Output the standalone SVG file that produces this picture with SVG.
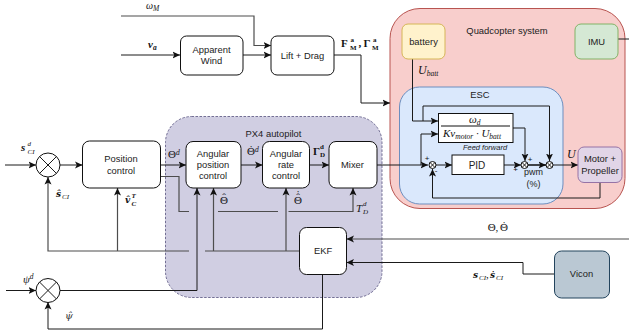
<svg xmlns="http://www.w3.org/2000/svg" width="629" height="336" viewBox="0 0 629 336">
<style>
.l{fill:none;stroke:#1a1a1a;stroke-width:1}
.g{fill:none;stroke:#4d4d4d;stroke-width:1.2}
.b{fill:#fff;stroke:#111;stroke-width:1}
.c{fill:#fff;stroke:#111;stroke-width:1}
text{font-family:"Liberation Sans",Arial,sans-serif;font-size:9.4px;fill:#222;text-anchor:middle}
.m{font-family:"Liberation Serif","DejaVu Serif",serif;font-style:italic;font-size:11px;fill:#111;text-anchor:start}
.n{font-family:"Liberation Serif","DejaVu Serif",serif;font-size:11px;fill:#111;text-anchor:middle}
.mb{font-family:"Liberation Serif","DejaVu Serif",serif;font-weight:bold;font-size:11px;fill:#111;text-anchor:start}
.h{font-family:"DejaVu Serif",serif;font-size:10px;fill:#333;text-anchor:start}
.hb{font-family:"DejaVu Serif",serif;font-size:9px;font-weight:bold;font-style:italic;fill:#111;text-anchor:start}
.u{font-family:"Liberation Serif",serif;font-style:italic;font-size:7px;fill:#111;text-anchor:start}
.ub{font-family:"Liberation Serif",serif;font-style:italic;font-weight:bold;font-size:7px;fill:#111;text-anchor:start}
.un{font-family:"Liberation Serif",serif;font-weight:bold;font-size:7px;fill:#111;text-anchor:start}
.s{font-size:7.5px}
.p{font-size:8px;fill:#111}
</style>
<defs>
<marker id="a" markerUnits="userSpaceOnUse" markerWidth="9" markerHeight="9" refX="7.5" refY="4" orient="auto"><path d="M0 0.5L7.5 4L0 7.5L1.8 4Z" fill="#111"/></marker>
</defs>
<g id="px4"><rect x="165.5" y="116.5" width="216.5" height="181" rx="26" fill="#d0cee2" stroke="#56517e" stroke-width="0.8" stroke-dasharray="2.5 1.5"/><text x="273.5" y="137">PX4 autopilot</text></g>
<g id="quadcopter"><rect x="390" y="8.5" width="235" height="200" rx="30" fill="#f8cecc" stroke="#b85450"/><text x="507" y="34">Quadcopter system</text></g>
<g id="esc"><rect x="399.5" y="87" width="163.5" height="117" rx="20" fill="#dae8fc" stroke="#6c8ebf"/><text x="480" y="98">ESC</text></g>
<g id="connectors">
<path class="g" d="M121 16H254V45.5H271" marker-end="url(#a)"/>
<path class="l" d="M121 55H180" marker-end="url(#a)"/>
<path class="l" d="M243 55H271" marker-end="url(#a)"/>
<path class="l" d="M334 55H361V103H390" marker-end="url(#a)"/>
<path class="l" d="M618 39H629"/>
<path class="l" d="M412.500 59V121H438" marker-end="url(#a)"/>
<path class="l" d="M423 121V106H549.500V161" marker-end="url(#a)"/>
<path class="l" d="M513 128H525V161" marker-end="url(#a)"/>
<path class="l" d="M421 165V134H438" marker-end="url(#a)"/>
<path class="l" d="M377 165H428" marker-end="url(#a)"/>
<path class="l" d="M436 165H452" marker-end="url(#a)"/>
<path class="l" d="M504 165H521" marker-end="url(#a)"/>
<path class="l" style="stroke-width:1.6" d="M528 165H546" marker-end="url(#a)"/>
<path class="l" d="M553 165H578" marker-end="url(#a)"/>
<path class="l" d="M600 183V198H432.500V169" marker-end="url(#a)"/>
<path class="l" d="M5 165H36" marker-end="url(#a)"/>
<path class="l" d="M60 165H82.500" marker-end="url(#a)"/>
<path class="l" d="M160.500 165H186" marker-end="url(#a)"/>
<path class="l" d="M241 165H262.500" marker-end="url(#a)"/>
<path class="l" d="M309.500 165H329" marker-end="url(#a)"/>
<path class="g" d="M160.500 176.500H179V211.500H189"/>
<path class="g" d="M218 211.500H278"/>
<path class="g" d="M288.500 211.500H353V188" marker-end="url(#a)"/>
<path class="g" d="M189 251H48V177" marker-end="url(#a)"/>
<path class="g" d="M117.500 251V188" marker-end="url(#a)"/>
<path class="g" d="M205 251H299.500"/>
<path class="g" d="M213.500 251V188" marker-end="url(#a)"/>
<path class="g" d="M286 251V188" marker-end="url(#a)"/>
<path class="l" d="M6 290.500H36" marker-end="url(#a)"/>
<path class="l" d="M60 290.500H197V188" marker-end="url(#a)"/>
<path class="l" d="M322.500 274.500V329H48V302" marker-end="url(#a)"/>
<path class="g" d="M629 239H346.500" marker-end="url(#a)"/>
<path class="l" d="M554.500 274H523V262.500H346.500" marker-end="url(#a)"/>
</g>
<g id="wind"><rect class="b" x="180.500" y="36" width="62.500" height="39" rx="6"/><text x="211.500" y="53">Apparent</text><text x="211.500" y="64">Wind</text></g>
<g id="lift"><rect class="b" x="271" y="36" width="63" height="39" rx="6"/><text x="302.500" y="58.500">Lift + Drag</text></g>
<g id="battery"><rect x="402" y="24" width="43" height="35" rx="6" fill="#fff2cc" stroke="#d6b656"/><text x="423.500" y="45">battery</text></g>
<g id="imu"><rect x="575" y="24" width="43" height="35" rx="6" fill="#d5e8d4" stroke="#82b366"/><text x="596.500" y="45">IMU</text></g>
<g id="feedforward"><rect class="b" x="438.500" y="113.500" width="74.500" height="29"/><path d="M441 126H510" stroke="#111" fill="none"/>
<text class="m" x="469" y="123">ω<tspan class="s" dy="2">d</tspan></text>
<text class="m" x="443" y="137">Kv<tspan class="s" dy="2">motor</tspan><tspan dy="-2"> · U</tspan><tspan class="s" dy="2">batt</tspan></text>
<text x="485" y="150" style="font-style:italic;font-size:7.500px">Feed forward</text></g>
<g id="pid"><rect class="b" x="452" y="155" width="52" height="19.500"/><text x="477" y="168.500" style="font-size:10px">PID</text></g>
<g id="motor"><rect x="578" y="147" width="44" height="35.500" rx="6" fill="#e1d5e7" stroke="#9673a6"/><text x="600" y="162">Motor +</text><text x="600" y="174">Propeller</text></g>
<g id="position"><rect class="b" x="82.500" y="141" width="78" height="47" rx="7"/><text x="121" y="162">Position</text><text x="121" y="174">control</text></g>
<g id="angpos"><rect class="b" x="186" y="141.500" width="55" height="46.500" rx="7"/><text x="213" y="157">Angular</text><text x="213" y="168">position</text><text x="213" y="179">control</text></g>
<g id="angrate"><rect class="b" x="262.500" y="141.500" width="47" height="46.500" rx="7"/><text x="286" y="157">Angular</text><text x="286" y="168">rate</text><text x="286" y="179">control</text></g>
<g id="mixer"><rect class="b" x="329" y="141.500" width="48" height="46.500" rx="7"/><text x="352.500" y="168">Mixer</text></g>
<g id="ekf"><rect class="b" x="299.500" y="227.500" width="47" height="47" rx="7"/><text x="323" y="254">EKF</text></g>
<g id="vicon"><rect x="554.500" y="251" width="55" height="47" rx="7" fill="#bac8d3" stroke="#23445d"/><text x="581.500" y="277">Vicon</text></g>
<g id="sum1"><circle class="c" cx="48" cy="165" r="12"/><path class="l" d="M39.500 156.500L56.500 173.500M56.500 156.500L39.500 173.500"/></g>
<g id="sum2"><circle class="c" cx="48" cy="290.500" r="12"/><path class="l" d="M39.500 282L56.500 299M56.500 282L39.500 299"/></g>
<g id="sum3"><circle class="c" cx="432.500" cy="165" r="3.500"/><path class="l" d="M430 162.500L435 167.500M435 162.500L430 167.500"/></g>
<g id="sum4"><circle class="c" cx="524.500" cy="165" r="3.500"/><path class="l" d="M522 162.500L527 167.500M527 162.500L522 167.500"/></g>
<g id="sum5"><circle class="c" cx="549.500" cy="165" r="3.500"/><path class="l" d="M547 162.500L552 167.500M552 162.500L547 167.500"/></g>
<g id="labels" opacity="0.99">
<text class="m" x="146" y="9" style="font-size:10px">ω<tspan class="s" dy="1.500">M</tspan></text>
<text class="mb" x="148" y="48" style="font-style:italic">v<tspan class="s" dy="2">a</tspan></text>
<text class="mb" x="341" y="47">F</text><text class="un" x="350.500" y="41.500">a</text><text class="un" x="350" y="49.500">M</text><text class="mb" x="358.500" y="47">,</text><text class="mb" x="363.500" y="47">Γ</text><text class="un" x="373" y="41.500">a</text><text class="un" x="372" y="49.500">M</text>
<text class="m" x="418" y="74" style="font-size:12px">U<tspan class="s" dy="2">batt</tspan></text>
<text class="mb" x="21" y="151" style="font-style:italic">s</text><text class="u" x="27.500" y="146">d</text><text class="u" x="27.500" y="154">CI</text>
<text class="hb" x="56" y="197">ŝ</text><text class="u" x="62" y="199">CI</text>
<text class="hb" x="125" y="203">v̂</text><text class="ub" x="131.500" y="198">T</text><text class="ub" x="131.500" y="206">C</text>
<text class="m" x="23" y="283">ψ<tspan class="s" dy="-4">d</tspan></text>
<text class="h" x="65" y="319" style="font-style:italic">ψ̂</text>
<text class="m" x="168" y="158" style="font-style:normal">Θ<tspan class="s" dy="-3" style="font-style:italic">d</tspan></text>
<text class="m" x="247" y="155" style="font-style:normal">Θ<tspan class="s" dy="-3" style="font-style:italic">d</tspan></text><text class="n" x="251" y="152.500">˙</text>
<text class="mb" x="313" y="155">Γ</text><text class="un" x="320" y="149">d</text><text class="un" x="320" y="157">D</text>
<text class="m" x="356" y="212">T</text><text class="u" x="363" y="206">d</text><text class="u" x="363" y="214">D</text>
<text class="n" x="224" y="203.500">Θ</text><text class="n" x="224" y="201">ˆ</text>
<text class="n" x="298" y="203.500">Θ</text><text class="n" x="298" y="201">ˆ</text><text class="n" x="298" y="198">˙</text>
<text class="m" x="567" y="158" style="font-size:12px">U</text>
<text class="n" x="493" y="231">Θ,</text><text class="n" x="504" y="231">Θ</text><text class="n" x="504" y="228.500">˙</text>
<text class="hb" x="473" y="278">s</text><text class="u" x="479" y="280">CI</text><text class="m" x="486" y="278" style="font-style:normal">,</text><text class="hb" x="490" y="278">ṡ</text><text class="u" x="496" y="280">CI</text>
<text class="p" x="427" y="161">+</text><text class="p" x="436" y="173">-</text><text class="p" x="530" y="162">+</text><text class="p" x="515.500" y="172">+</text>
<text x="533.500" y="175" style="font-size:9px">pwm</text><text x="533.500" y="187" style="font-size:9px">(%)</text>
</g>
</svg>
